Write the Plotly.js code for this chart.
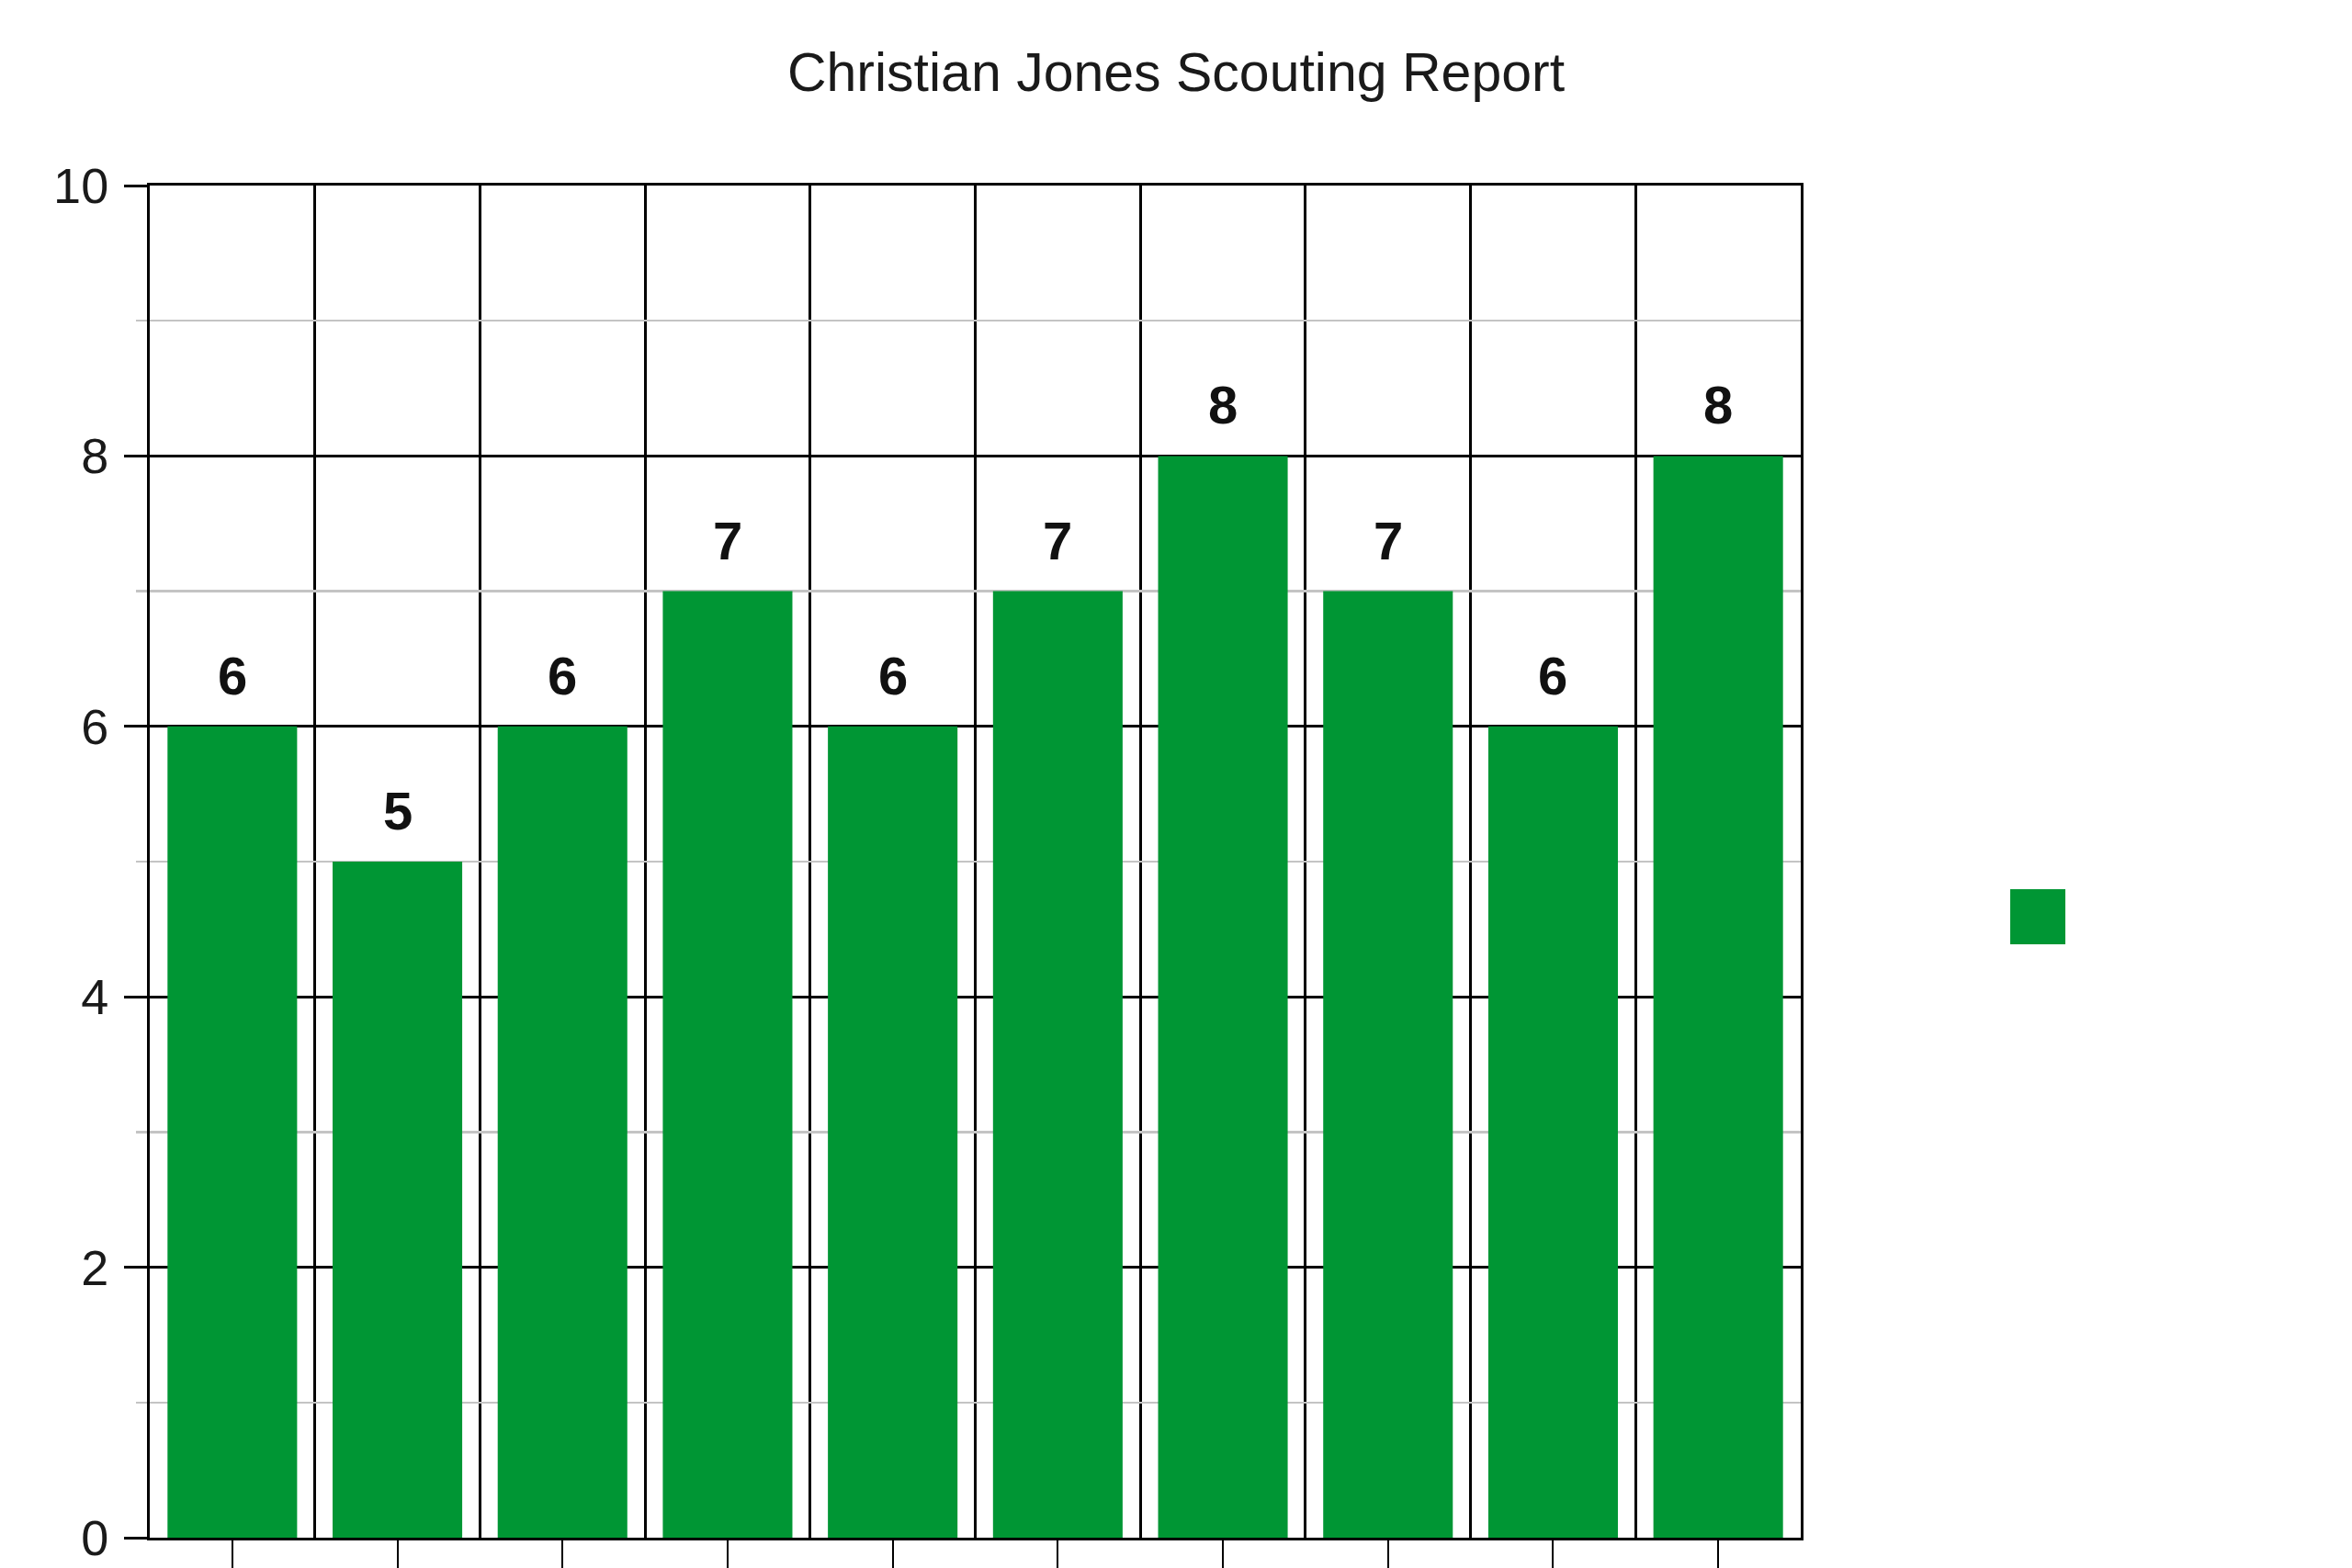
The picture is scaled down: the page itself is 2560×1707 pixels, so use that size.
<!DOCTYPE html>
<html>
<head>
<meta charset="utf-8">
<script src="https://cdn.plot.ly/plotly-3.0.1.min.js"></script>
<style>html,body{margin:0;padding:0;background:#fff;overflow:hidden}#chart{width:2560px;height:1707px}</style>
</head>
<body>
<div id="chart"></div>
<script>
var chartTitle = "Christian Jones Scouting Report";
var categories = ["1","2","3","4","5","6","7","8","9","10"];
var values = [6, 5, 6, 7, 6, 7, 8, 7, 6, 8];
var barColor = "#009634";
var yTickVals = [0, 2, 4, 6, 8, 10];

var xIdx = categories.map(function(c, i){ return i; });

var trace = {
  type: "bar",
  x: xIdx,
  y: values,
  marker: {color: barColor},
  showlegend: false,
  hoverinfo: "skip"
};

var annotations = values.map(function(v, i){
  return {
    x: xIdx[i], y: v, xref: "x", yref: "y",
    text: String(v), showarrow: false,
    yanchor: "bottom", yshift: 21,
    font: {family: "Liberation Sans, Arial, sans-serif", size: 58, color: "#111", weight: "bold"}
  };
});

var layout = {
  width: 2560, height: 1707,
  margin: {l: 163, r: 600, t: 202, b: 33, pad: 0},
  paper_bgcolor: "#fff", plot_bgcolor: "#fff",
  bargap: 0.215,
  font: {family: "Liberation Sans, Arial, sans-serif", color: "#222"},
  title: {
    text: chartTitle, xref: "container", x: 0.5, xanchor: "center",
    yref: "container", y: 1 - 78/1707, yanchor: "middle",
    font: {size: 59, color: "#1a1a1a", family: "Liberation Sans, Arial, sans-serif"}
  },
  xaxis: {
    range: [-0.5, 9.5], fixedrange: true,
    tickvals: xIdx, ticktext: categories,
    showticklabels: false,
    ticks: "outside", ticklen: 40, tickwidth: 2, tickcolor: "#000",
    showgrid: false, zeroline: false,
    showline: true, linecolor: "#000", linewidth: 3, mirror: true,
    minor: {tick0: 0.5, dtick: 1, showgrid: true, gridcolor: "#000", gridwidth: 3, ticks: ""}
  },
  yaxis: {
    range: [0, 10], fixedrange: true,
    tickvals: yTickVals,
    ticks: "outside", ticklen: 25, tickwidth: 3, tickcolor: "#000",
    ticklabelstandoff: 6,
    tickfont: {size: 54, color: "#1a1a1a"},
    showgrid: true, gridcolor: "#000", gridwidth: 3,
    zeroline: false,
    showline: true, linecolor: "#000", linewidth: 3, mirror: true,
    minor: {dtick: 1, showgrid: true, gridcolor: "#c4c4c4", gridwidth: 2.5, ticks: "outside", ticklen: 12, tickcolor: "#c4c4c4", tickwidth: 2.5}
  },
  shapes: [{
    type: "rect", xref: "paper", yref: "paper",
    x0: (2188-163)/1797, x1: (2248-163)/1797,
    y0: (1674-1028)/1472, y1: (1674-968)/1472,
    fillcolor: barColor, line: {width: 0}
  }],
  annotations: annotations,
  showlegend: false
};

Plotly.newPlot("chart", [trace], layout, {displayModeBar: false, staticPlot: true});
</script>
</body>
</html>
